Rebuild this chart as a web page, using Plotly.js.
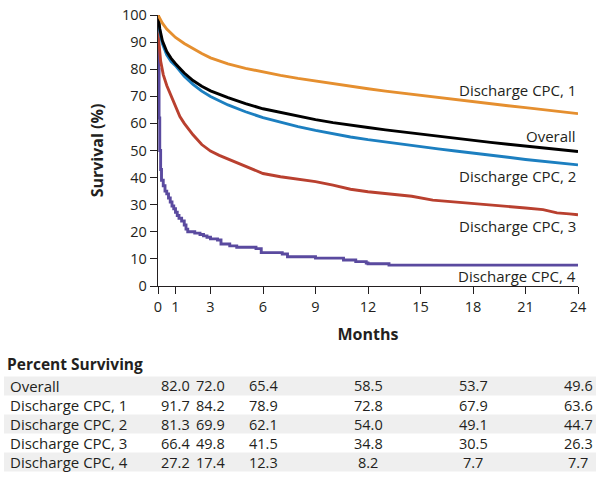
<!DOCTYPE html>
<html>
<head>
<meta charset="utf-8">
<script src="https://cdn.plot.ly/plotly-3.0.1.min.js"></script>
<style>html,body{margin:0;padding:0;background:#fff;}#chart{width:600px;height:477px;}</style>
</head>
<body>
<div id="chart"></div>
<script>
// ---- data ----
var overallT = [0,0.05,0.1,0.25,0.5,0.75,1,1.5,2,2.5,3,4,5,6,7,8,9,10,11,12,13,14,15,16,17,18,19,20,21,22,23,24];
var overallS = [100,97,95,90.5,86.5,84,82.0,78.6,75.8,73.7,72.0,69.5,67.3,65.4,64.0,62.6,61.4,60.3,59.3,58.5,57.6,56.8,56.0,55.2,54.5,53.7,53.0,52.3,51.6,50.9,50.2,49.6];

var cpc1T = [0,0.1,0.25,0.5,0.75,1,1.5,2,2.5,3,4,5,6,7,8,9,10,11,12,13,14,15,16,17,18,19,20,21,22,23,24];
var cpc1S = [100,98.6,97,94.8,93.1,91.7,89.5,87.6,85.8,84.2,82.0,80.3,78.9,77.7,76.6,75.6,74.6,73.7,72.8,71.9,71.1,70.3,69.5,68.7,67.9,67.2,66.5,65.8,65.1,64.3,63.6];

var cpc2T = [0,0.05,0.1,0.25,0.5,0.75,1,1.5,2,2.5,3,4,5,6,7,8,9,10,11,12,13,14,15,16,17,18,19,20,21,22,23,24];
var cpc2S = [100,96.5,94,89.5,85.3,82.8,81.3,77.4,74.4,71.9,69.9,66.8,64.3,62.1,60.4,58.8,57.4,56.1,55.0,54.0,53.1,52.3,51.5,50.6,49.8,49.1,48.3,47.5,46.7,46.0,45.3,44.7];

var cpc3T = [0,0.05,0.15,0.3,0.5,0.75,1,1.25,1.5,2,2.5,3,3.5,4,4.5,5,5.5,6,7,8,9,10,10.4,11,12,13,13.8,14.5,15.7,16.5,17.6,18,19,20,21,22,22.8,23.5,24];
var cpc3S = [100,90,83,78,74,70,66.4,62.5,60,55.8,52.2,49.8,48.2,46.8,45.4,44.0,42.6,41.5,40.3,39.5,38.5,37.2,36.6,35.7,34.8,34.2,33.6,33.1,31.7,31.3,30.6,30.5,30.0,29.5,28.8,28.2,27.0,26.6,26.3];

var cpc4T = [0,0.03,0.06,0.1,0.15,0.2,0.3,0.4,0.5,0.6,0.7,0.8,0.9,1.0,1.1,1.2,1.35,1.5,1.6,1.7,2.1,2.4,2.6,2.8,3.0,3.4,3.6,4.1,4.5,5.6,5.9,7.1,7.4,9.0,10.6,11.3,11.9,12.0,13.2,24];
var cpc4S = [100,80,62,50,43,39,37,35,34,32.5,31,29.5,28.5,27.2,26,25,24,22.5,21,20,19.5,19,18.5,18,17.4,17,15.5,14.8,14.3,13.8,12.3,11.8,10.8,10.3,9.6,9.0,8.5,8.2,7.7,7.7];

var seriesNames = ["Discharge CPC, 4","Discharge CPC, 3","Discharge CPC, 2","Overall","Discharge CPC, 1"];
var labelY = [3.8, 22.3, 40.6, 55.4, 72.3];

var xTicks = [0,1,3,6,9,12,15,18,21,24];
var tableMonths = [1,3,6,12,18,24];
var tableRows = ["Overall","Discharge CPC, 1","Discharge CPC, 2","Discharge CPC, 3","Discharge CPC, 4"];
var tableOverall = ["82.0","72.0","65.4","58.5","53.7","49.6"];
var tableCpc1 = ["91.7","84.2","78.9","72.8","67.9","63.6"];
var tableCpc2 = ["81.3","69.9","62.1","54.0","49.1","44.7"];
var tableCpc3 = ["66.4","49.8","41.5","34.8","30.5","26.3"];
var tableCpc4 = ["27.2","17.4","12.3","8.2","7.7","7.7"];

// ---- styles / layout ----
var FONT = "Open Sans, Noto Sans, sans-serif";
var TXT = "#231f20";
var colors = {cpc4:"#5a4a9f", cpc3:"#b9402f", cpc2:"#1c7fc0", overall:"#000000", cpc1:"#e58f2f"};

var traces = [
  {x:cpc4T, y:cpc4S, mode:"lines", line:{color:colors.cpc4, width:2.9, shape:"hv"}},
  {x:cpc3T, y:cpc3S, mode:"lines", line:{color:colors.cpc3, width:2.9}},
  {x:cpc2T, y:cpc2S, mode:"lines", line:{color:colors.cpc2, width:2.9}},
  {x:overallT, y:overallS, mode:"lines", line:{color:colors.overall, width:2.9}},
  {x:cpc1T, y:cpc1S, mode:"lines", line:{color:colors.cpc1, width:2.9}}
];
traces.forEach(function(t,i){ t.name = seriesNames[i]; t.hoverinfo = "skip"; });

var L = 158, T = 15, PW = 420, PH = 271;
function px2paperX(px){ return (px - L) / PW; }
function px2paperY(py){ return (T + PH - py) / PH; }

var annotations = [];
// curve labels
seriesNames.forEach(function(n,i){
  annotations.push({text:n, x:24, xref:"x", y:labelY[i], yref:"y", xanchor:"right", yanchor:"middle",
    showarrow:false, font:{family:FONT, size:15, color:TXT}});
});
// table title
annotations.push({text:"<b>Percent Surviving</b>", x:px2paperX(5), xref:"paper", y:px2paperY(364), yref:"paper",
  xanchor:"left", yanchor:"middle", showarrow:false, font:{family:FONT, size:15.5, color:TXT}});

var tableVals = [tableOverall, tableCpc1, tableCpc2, tableCpc3, tableCpc4];
var shapes = [];
var rowY0 = 386, rowH = 19;
tableRows.forEach(function(r,i){
  var cy = rowY0 + i*rowH;
  if (i % 2 === 0) {
    shapes.push({type:"rect", xref:"paper", yref:"paper", x0:px2paperX(4), x1:px2paperX(596),
      y0:px2paperY(cy - rowH/2), y1:px2paperY(cy + rowH/2), fillcolor:"#efefef", line:{width:0}, layer:"below"});
  }
  annotations.push({text:r, x:px2paperX(8), xref:"paper", y:px2paperY(cy), yref:"paper",
    xanchor:"left", yanchor:"middle", showarrow:false, font:{family:FONT, size:15, color:TXT}});
  tableMonths.forEach(function(m,j){
    annotations.push({text:tableVals[i][j], x:m, xref:"x", y:px2paperY(cy), yref:"paper",
      xanchor:"center", yanchor:"middle", showarrow:false, font:{family:FONT, size:14.5, color:TXT}});
  });
});

var layout = {
  width:600, height:477,
  margin:{l:L, r:600-L-PW, t:T, b:477-T-PH, pad:0},
  paper_bgcolor:"#ffffff", plot_bgcolor:"#ffffff",
  showlegend:false,
  font:{family:FONT, color:TXT},
  xaxis:{range:[0,24], tickvals:xTicks, ticktext:xTicks.map(String), ticks:"outside", ticklen:7, tickwidth:1,
    tickcolor:"#231f20", showline:true, linecolor:"#231f20", linewidth:1.2, showgrid:false, zeroline:false,
    tickfont:{family:FONT, size:14.5, color:TXT},
    title:{text:"<b>Months</b>", font:{family:FONT, size:16, color:TXT}, standoff:14}},
  yaxis:{range:[0,100], dtick:10, tick0:0, ticks:"outside", ticklen:7, tickwidth:1,
    tickcolor:"#231f20", showline:true, linecolor:"#231f20", linewidth:1.2, showgrid:false, zeroline:false,
    tickfont:{family:FONT, size:14.5, color:TXT},
    title:{text:"<b>Survival (%)</b>", font:{family:FONT, size:16, color:TXT}, standoff:14}},
  annotations:annotations,
  shapes:shapes
};

Plotly.newPlot("chart", traces, layout, {displayModeBar:false, staticPlot:true});
</script>
</body>
</html>
